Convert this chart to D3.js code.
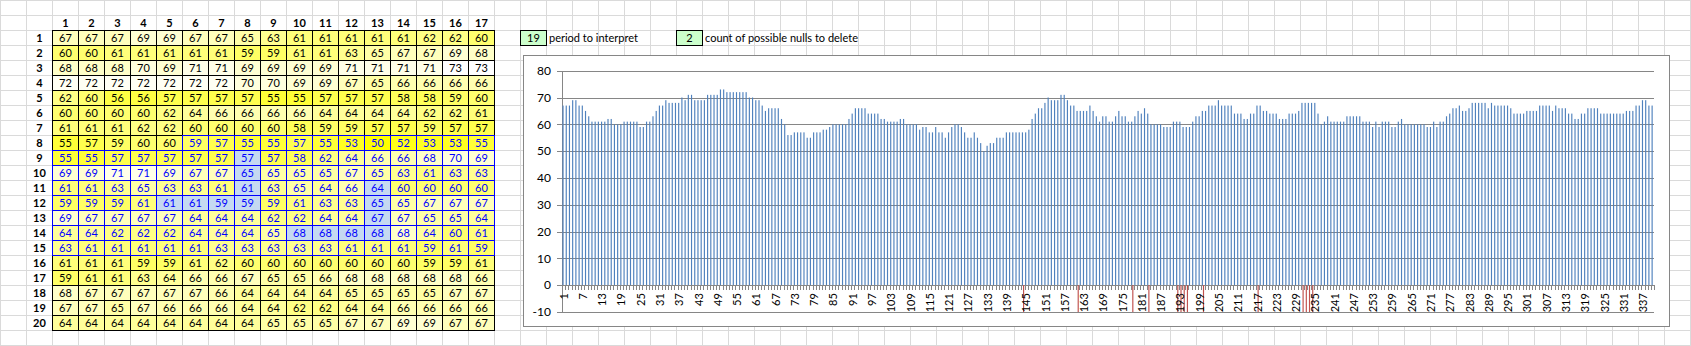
<!DOCTYPE html>
<html><head><meta charset="utf-8">
<script src="https://cdn.jsdelivr.net/npm/d3@7"></script>
<style>body{margin:0;background:#fff;overflow:hidden}svg{display:block}</style>
</head><body><svg id="c" width="1691" height="346"></svg>
<script>
// ---------- data ----------
const colNums = d3.range(1, 18);
const rowNums = d3.range(1, 21);
const row01 = [67,67,67,69,69,67,67,65,63,61,61,61,61,61,62,62,60];
const row02 = [60,60,61,61,61,61,61,59,59,61,61,63,65,67,67,69,68];
const row03 = [68,68,68,70,69,71,71,69,69,69,69,71,71,71,71,73,73];
const row04 = [72,72,72,72,72,72,72,70,70,69,69,67,65,66,66,66,66];
const row05 = [62,60,56,56,57,57,57,57,55,55,57,57,57,58,58,59,60];
const row06 = [60,60,60,60,62,64,66,66,66,66,64,64,64,64,62,62,61];
const row07 = [61,61,61,62,62,60,60,60,60,58,59,59,57,57,59,57,57];
const row08 = [55,57,59,60,60,59,57,55,55,57,55,53,50,52,53,53,55];
const row09 = [55,55,57,57,57,57,57,57,57,58,62,64,66,66,68,70,69];
const row10 = [69,69,71,71,69,67,67,65,65,65,65,67,65,63,61,63,63];
const row11 = [61,61,63,65,63,63,61,61,63,65,64,66,64,60,60,60,60];
const row12 = [59,59,59,61,61,61,59,59,59,61,63,63,65,65,67,67,67];
const row13 = [69,67,67,67,67,64,64,64,62,62,64,64,67,67,65,65,64];
const row14 = [64,64,62,62,62,64,64,64,65,68,68,68,68,68,64,60,61];
const row15 = [63,61,61,61,61,61,63,63,63,63,63,61,61,61,59,61,59];
const row16 = [61,61,61,59,59,61,62,60,60,60,60,60,60,60,59,59,61];
const row17 = [59,61,61,63,64,66,66,67,65,65,66,68,68,68,68,68,66];
const row18 = [68,67,67,67,67,67,66,64,64,64,64,65,65,65,65,67,67];
const row19 = [67,67,65,67,66,66,66,64,64,62,62,64,64,66,66,66,66];
const row20 = [64,64,64,64,64,64,64,64,65,65,65,67,67,69,69,67,67];
const tableRows = [row01,row02,row03,row04,row05,row06,row07,row08,row09,row10,
                   row11,row12,row13,row14,row15,row16,row17,row18,row19,row20];
// positions (1-based, row-major) of the marked cells / red bars
const markedIdx = [144,161,178,183,192,193,194,195,200,217,231,232,233,234];
const markerValue = -10;
// blue-bordered window (first and last 1-based positions)
const windowRange = [125, 255];
const inputValues = [19, 2];
const inputLabels = ["period to interpret", "count of possible nulls to delete"];
const yTicks = d3.range(-10, 81, 10);
const xLabelStep = 6;

// ---------- derived ----------
const series = tableRows.flat();
const categories = d3.range(1, series.length + 1);
const markedSet = new Set(markedIdx);

const svg = d3.select("#c");
const W = 1691, H = 346;
const FONT = "Lato, 'Liberation Sans', sans-serif";

// spreadsheet grid
const gridG = svg.append("g").attr("stroke", "#dadada").attr("stroke-width", 1).attr("shape-rendering","crispEdges");
gridG.selectAll("line.v").data(d3.range(0, W, 26)).join("line")
  .attr("x1", d => d + 0.5).attr("x2", d => d + 0.5).attr("y1", 0).attr("y2", H);
gridG.selectAll("line.h").data(d3.range(0, H, 15)).join("line")
  .attr("y1", d => d + 0.5).attr("y2", d => d + 0.5).attr("x1", 0).attr("x2", W);

// ---------- table ----------
const cx = d3.scaleBand().domain(colNums).range([52, 52 + 26 * 17]);
const ry = d3.scaleBand().domain(rowNums).range([30, 30 + 15 * 20]);
const color = d3.scaleLinear().domain([d3.min(series), d3.max(series)]).range(["#ffff00", "#ffffff"]);

// headers
const hdr = svg.append("g").attr("font-family", FONT).attr("font-size", 11).attr("font-weight", "bold").attr("fill", "#000");
hdr.selectAll("text.c").data(colNums).join("text")
  .attr("x", d => cx(d) + cx.bandwidth() / 2 + 0.5).attr("y", 27)
  .attr("text-anchor", "middle").text(d => d);
hdr.selectAll("text.r").data(rowNums).join("text")
  .attr("x", 39.5).attr("y", d => ry(d) + 12)
  .attr("text-anchor", "middle").text(d => d);

const cells = [];
tableRows.forEach((row, ri) => row.forEach((v, ci) => {
  const pos = ri * 17 + ci + 1;
  cells.push({ r: ri + 1, c: ci + 1, v, pos,
    inWin: pos >= windowRange[0] && pos <= windowRange[1],
    marked: markedSet.has(pos) });
}));
const cellG = svg.append("g").attr("shape-rendering", "crispEdges");
const ordered = cells.filter(d => !d.inWin).concat(cells.filter(d => d.inWin));
cellG.selectAll("rect").data(ordered).join("rect")
  .attr("x", d => cx(d.c) + 0.5).attr("y", d => ry(d.r) + 0.5)
  .attr("width", cx.bandwidth()).attr("height", ry.bandwidth())
  .attr("fill", d => d.marked ? "#c5d9f1" : color(d.v))
  .attr("stroke", d => d.inWin ? "#0000ff" : "#000").attr("stroke-width", 1);
svg.append("g").attr("font-family", FONT).attr("font-size", 11)
  .selectAll("text").data(cells).join("text")
  .attr("x", d => cx(d.c) + cx.bandwidth() / 2 + 0.5).attr("y", d => ry(d.r) + 12)
  .attr("text-anchor", "middle")
  .attr("fill", d => d.inWin ? "#0000ff" : "#000")
  .text(d => d.v);

// ---------- input boxes ----------
const inputX = [520, 676];
const inG = svg.append("g").attr("font-family", FONT).attr("font-size", 11);
inputValues.forEach((v, i) => {
  inG.append("rect").attr("x", inputX[i] + 0.5).attr("y", 30.5).attr("width", 26).attr("height", 15)
    .attr("fill", "#ccffcc").attr("stroke", "#000").attr("shape-rendering", "crispEdges");
  inG.append("text").attr("x", inputX[i] + 13.5).attr("y", 42).attr("text-anchor", "middle").text(v);
  inG.append("text").attr("x", inputX[i] + 29).attr("y", 42).text(inputLabels[i]);
});

// ---------- chart ----------
svg.append("rect").attr("x", 523.5).attr("y", 55.5).attr("width", 1146).attr("height", 271)
  .attr("fill", "#fff").attr("stroke", "#868686").attr("shape-rendering", "crispEdges");

const plotL = 562, plotR = 1654.3;
const x = d3.scaleBand().domain(categories).range([plotL, plotR]).padding(0);
const y = d3.scaleLinear().domain([-10, 80]).range([312, 70.7]);
const y0 = y(0);
const gray = "#868686";

const gGrid = svg.append("g").attr("shape-rendering", "crispEdges");
gGrid.selectAll("line").data(yTicks).join("line")
  .attr("x1", plotL - 5).attr("x2", plotR)
  .attr("y1", d => Math.round(y(d)) + 0.5).attr("y2", d => Math.round(y(d)) + 0.5)
  .attr("stroke", gray);
gGrid.append("line").attr("x1", plotL + 0.5).attr("x2", plotL + 0.5)
  .attr("y1", Math.round(y(80)) + 0.5).attr("y2", Math.round(y(-10)) + 0.5).attr("stroke", gray);

svg.append("g").attr("font-family", FONT).attr("font-size", 12).attr("fill", "#000")
  .selectAll("text").data(yTicks).join("text")
  .attr("x", 551).attr("y", d => y(d) + 4.3).attr("text-anchor", "end").text(d => d);

// bars
const step = x.step();
const barW = 1.15;
svg.append("g").selectAll("rect").data(categories).join("rect")
  .attr("x", d => x(d) + step / 2 - barW).attr("width", barW)
  .attr("y", d => y(series[d - 1])).attr("height", d => y0 - y(series[d - 1]))
  .attr("fill", "#4f81bd");

// x axis line + ticks
const ax = svg.append("g").attr("shape-rendering", "crispEdges").attr("stroke", gray);
ax.append("line").attr("x1", plotL).attr("x2", plotR).attr("y1", Math.round(y0) + 0.5).attr("y2", Math.round(y0) + 0.5);
ax.selectAll("line.t").data(d3.range(0, categories.length + 1)).join("line")
  .attr("x1", d => Math.round(plotL + d * step) + 0.5).attr("x2", d => Math.round(plotL + d * step) + 0.5)
  .attr("y1", Math.round(y0)).attr("y2", Math.round(y0) + 5);

// red marker bars (negative series)
svg.append("g").selectAll("rect").data(markedIdx).join("rect")
  .attr("x", d => x(d) + step / 2).attr("width", barW)
  .attr("y", y0).attr("height", y(markerValue) - y0)
  .attr("fill", "#c0504d");

// x labels
svg.append("g").attr("font-family", FONT).attr("font-size", 11).attr("fill", "#000")
  .selectAll("text").data(categories.filter(d => (d - 1) % xLabelStep === 0)).join("text")
  .attr("transform", d => `translate(${x(d) + step / 2 + 4},${y0 + 8}) rotate(-90)`)
  .attr("text-anchor", "end").text(d => d);
</script></body></html>
